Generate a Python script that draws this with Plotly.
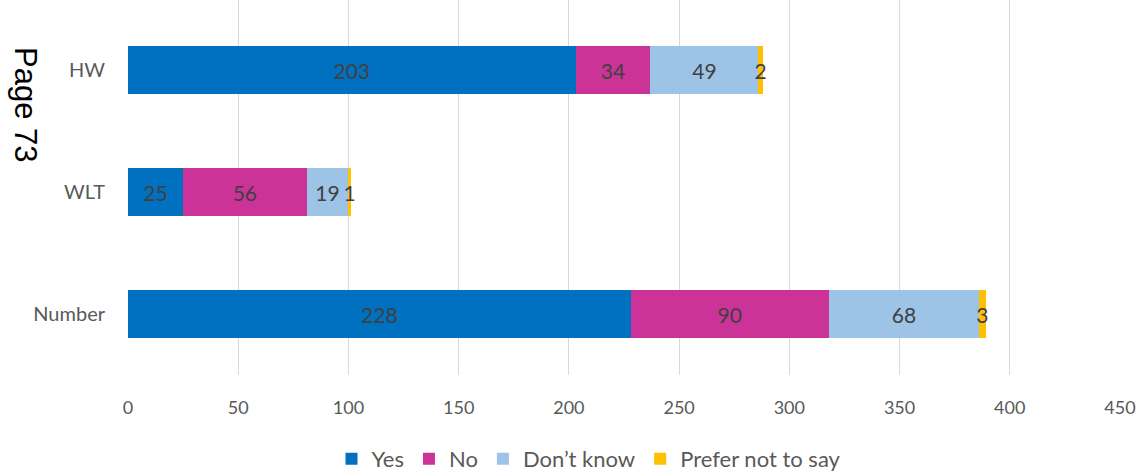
import plotly.graph_objects as go

categories = ["HW", "WLT", "Number"]
series_names = ["Yes", "No", "Don’t know", "Prefer not to say"]
yes = [203, 25, 228]
no = [34, 56, 90]
dont_know = [49, 19, 68]
prefer_not = [2, 1, 3]
x_ticks = [0, 50, 100, 150, 200, 250, 300, 350, 400, 450]

colors = ["#0070C0", "#CC3399", "#9DC3E6", "#FFC000"]
values = [yes, no, dont_know, prefer_not]

fig = go.Figure()
for name, vals, col in zip(series_names, values, colors):
    fig.add_trace(go.Bar(
        y=categories, x=vals, name=name, orientation="h",
        marker=dict(color=col, line=dict(width=0)),
        text=[str(v) for v in vals], textposition="inside",
        insidetextanchor="middle", constraintext="none",
        textfont=dict(family="Lato, sans-serif", size=21, color="#404040"),
        width=0.4,
    ))

fig.update_layout(
    barmode="stack",
    width=1140, height=472,
    margin=dict(l=128, r=20, t=0, b=97, autoexpand=False),
    paper_bgcolor="white", plot_bgcolor="white",
    font=dict(family="Lato, sans-serif", color="#595959"),
    showlegend=True,
    legend=dict(orientation="h", x=589 / 1140, xref="container", xanchor="center",
                y=1 - 459 / 472, yref="container", yanchor="middle",
                font=dict(size=22, color="#595959"), traceorder="normal",
                itemwidth=30),
    xaxis=dict(range=[0, 450], tickvals=x_ticks, showgrid=True, gridcolor="#D9D9D9",
               gridwidth=1, zeroline=False, showline=False, ticks="",
               tickfont=dict(size=18, color="#595959"), ticklabelstandoff=20),
    yaxis=dict(categoryorder="array", categoryarray=categories,
               range=[2.5, -0.574], showgrid=False, zeroline=False,
               ticks="", tickfont=dict(size=20, color="#595959"),
               ticklabelstandoff=22),
    annotations=[dict(text="Page 73", textangle=90, xref="paper", yref="paper",
                      x=(26 - 128) / 992, y=1 - 105 / 375, xanchor="center", yanchor="middle",
                      showarrow=False,
                      font=dict(family="Liberation Sans, Arial", size=31, color="black"))],
)

fig.write_html("out.html")
